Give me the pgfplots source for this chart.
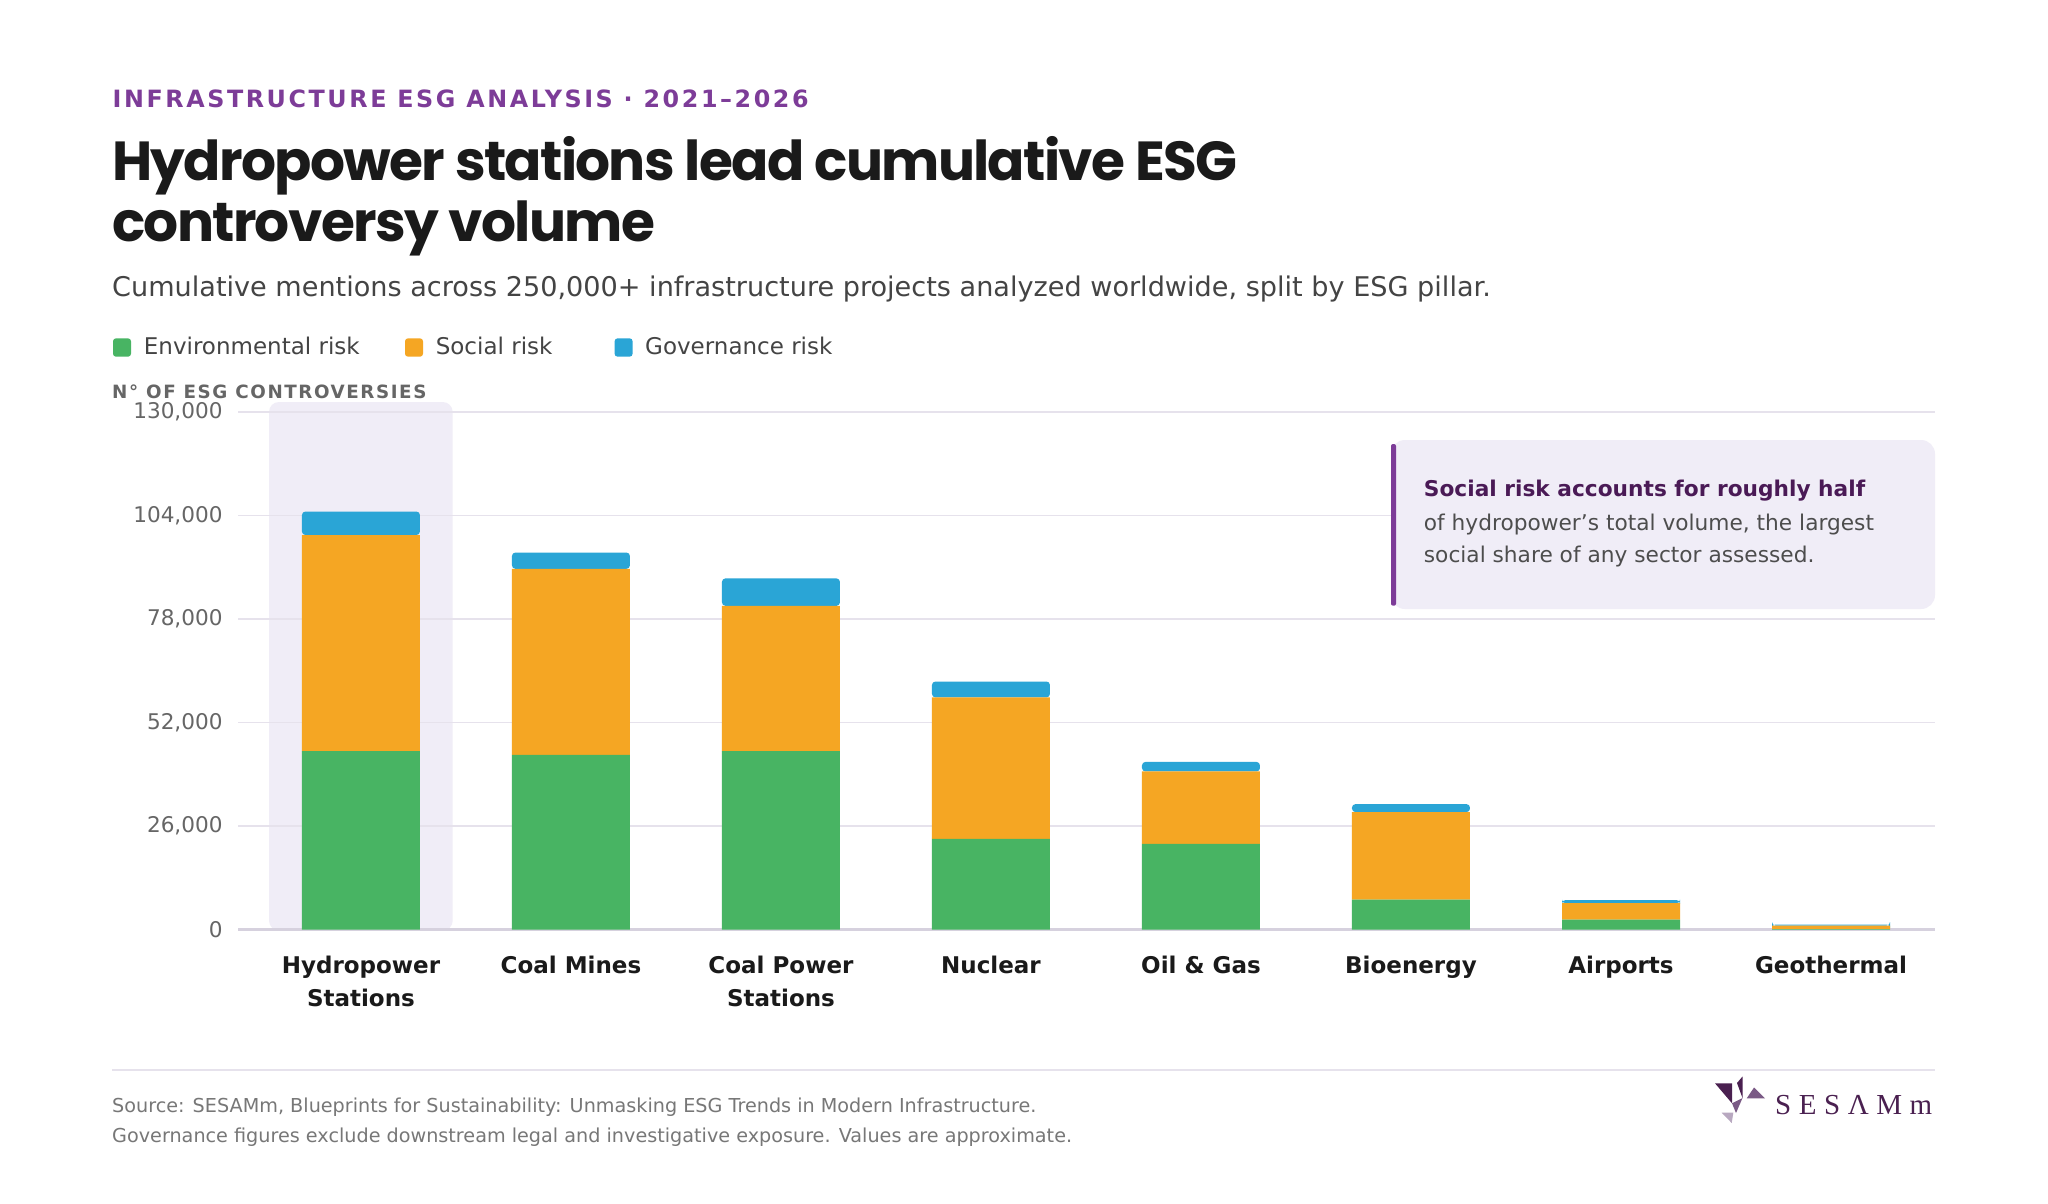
\documentclass[border=0pt]{standalone}
\usepackage{pgfplots}
\pgfplotsset{compat=1.18}
\usepackage{fontspec}
\setmainfont{DejaVu Sans}
\newfontfamily\poppins{Poppins}[LetterSpace=-3.1]
\newfontfamily\overfont{DejaVu Sans}[LetterSpace=10.8]
\newfontfamily\ylabfont{DejaVu Sans}[LetterSpace=8.5]
\newfontfamily\logofont{Liberation Serif}[LetterSpace=26]
\definecolor{greenc}{HTML}{48B463}
\definecolor{orangec}{HTML}{F5A623}
\definecolor{bluec}{HTML}{2AA5D6}
\definecolor{hlc}{HTML}{F0EDF7}
\definecolor{gridc}{HTML}{E6E2EC}
\definecolor{axisc}{HTML}{D6D1DE}
\definecolor{overc}{HTML}{7D3C98}
\definecolor{titlec}{HTML}{1A1A1A}
\definecolor{subc}{HTML}{444444}
\definecolor{grayc}{HTML}{666666}
\definecolor{annoc}{HTML}{4A1A56}
\definecolor{annotext}{HTML}{4D4D4D}
\definecolor{footc}{HTML}{777777}
\definecolor{logoc}{HTML}{4A2050}
\definecolor{logom}{HTML}{7A5A85}
\definecolor{logol}{HTML}{B8A8C0}
\definecolor{barc}{HTML}{7D3C98}
\begin{document}
\begin{tikzpicture}
\useasboundingbox (0pt,0pt) rectangle (2048pt,-1203pt);
\fill[white] (0pt,0pt) rectangle (2048pt,-1203pt);
% header
\node[anchor=base west, inner sep=0, text=overc, font=\overfont\bfseries\fontsize{23.8}{28}\selectfont] at (112.5pt,-107.3pt) {INFRASTRUCTURE ESG ANALYSIS · 2021–2026};
\node[anchor=base west, inner sep=0, text=titlec, font=\poppins\bfseries\fontsize{55}{62}\selectfont] at (112pt,-180pt) {Hydropower stations lead cumulative ESG};
\node[anchor=base west, inner sep=0, text=titlec, font=\poppins\bfseries\fontsize{55}{62}\selectfont] at (112pt,-241.7pt) {controversy volume};
\node[anchor=base west, inner sep=0, text=subc, font=\fontsize{27.1}{32}\selectfont] at (112pt,-296.7pt) {Cumulative mentions across 250,000+ infrastructure projects analyzed worldwide, split by ESG pillar.};
% legend
\fill[greenc, rounded corners=3pt] (113pt,-338.3pt) rectangle (131pt,-356.7pt);
\node[anchor=base west, inner sep=0, text=subc, font=\fontsize{23}{27}\selectfont] at (143.7pt,-354pt) {Environmental risk};
\fill[orangec, rounded corners=3pt] (405pt,-338.3pt) rectangle (423pt,-356.7pt);
\node[anchor=base west, inner sep=0, text=subc, font=\fontsize{23}{27}\selectfont] at (435.6pt,-354pt) {Social risk};
\fill[bluec, rounded corners=3pt] (614.6pt,-338.3pt) rectangle (632.6pt,-356.7pt);
\node[anchor=base west, inner sep=0, text=subc, font=\fontsize{23}{27}\selectfont] at (645pt,-354pt) {Governance risk};
\node[anchor=base west, inner sep=0, text=grayc, font=\ylabfont\bfseries\fontsize{18.3}{22}\selectfont] at (112pt,-398.3pt) {N° OF ESG CONTROVERSIES};
% highlight behind first category
\fill[hlc, rounded corners=10pt] (269pt,-402pt) rectangle (452.7pt,-930.5pt);
% chart
\begin{axis}[
  at={(238.3pt,-929.5pt)}, anchor=south west, scale only axis,
  width=1696.7pt, height=517.5pt,
  xmin=-0.584, xmax=7.495, ymin=0, ymax=130000,
  ybar stacked, bar width=118pt,
  axis x line*=bottom, axis y line*=left,
  x axis line style={draw=axisc, line width=2.5pt, -},
  y axis line style={draw=none},
  xtick={0,...,7},
  xticklabels={{Hydropower\\Stations},{Coal Mines},{Coal Power\\Stations},{Nuclear},{Oil \& Gas},{Bioenergy},{Airports},{Geothermal}},
  ytick={0,26000,52000,78000,104000,130000},
  scaled y ticks=false,
  tick style={draw=none},
  ymajorgrids, grid style={draw=gridc, line width=1.5pt},
  yticklabel style={/pgf/number format/fixed, /pgf/number format/1000 sep={,}, /pgf/number format/assume math mode=true},
  y tick label style={font=\fontsize{21.6}{24}\selectfont, text=grayc, anchor=east, inner sep=0pt, xshift=-15.5pt},
  x tick label style={font=\bfseries\fontsize{23}{32.7}\selectfont, text=titlec, align=center, anchor=north, inner sep=0pt, yshift=-26.5pt},
  clip=false,
]
\addplot[fill=greenc, draw=none] coordinates {(0,44800) (1,43900) (2,44800) (3,22800) (4,21500) (5,7500) (6,2500) (7,100)};
\addplot[fill=orangec, draw=none] coordinates {(0,54300) (1,46700) (2,36500) (3,35500) (4,18200) (5,22000) (6,4100) (7,900)};
\addplot[fill=bluec, draw=none, rounded corners=3.5pt] coordinates {(0,5900) (1,4100) (2,6900) (3,4000) (4,2400) (5,2000) (6,800) (7,250)};
\end{axis}
% annotation
\fill[hlc, rounded corners=14pt] (1391pt,-440pt) rectangle (1935pt,-609pt);
\fill[barc, rounded corners=2pt] (1391pt,-444pt) rectangle (1396pt,-605.7pt);
\node[anchor=base west, inner sep=0, text=annoc, font=\bfseries\fontsize{21.7}{26}\selectfont] at (1423.7pt,-496.7pt) {Social risk accounts for roughly half};
\node[anchor=base west, inner sep=0, text=annotext, font=\fontsize{21.7}{26}\selectfont] at (1423.7pt,-530pt) {of hydropower’s total volume, the largest};
\node[anchor=base west, inner sep=0, text=annotext, font=\fontsize{21.7}{26}\selectfont] at (1423.7pt,-562.7pt) {social share of any sector assessed.};
% footer
\draw[gridc, line width=1.5pt] (112pt,-1069.8pt) -- (1935pt,-1069.8pt);
\node[anchor=base west, inner sep=0, text=footc, font=\fontsize{19.2}{22}\selectfont] at (112pt,-1112pt) {Source: SESAMm, Blueprints for Sustainability: Unmasking ESG Trends in Modern Infrastructure.};
\node[anchor=base west, inner sep=0, text=footc, font=\fontsize{19.2}{22}\selectfont] at (112pt,-1142.5pt) {Governance figures exclude downstream legal and investigative exposure. Values are approximate.};
% logo
\fill[logoc] (1715pt,-1083.3pt) -- (1732pt,-1083.3pt) -- (1732pt,-1103.3pt) -- cycle;
\fill[logoc] (1737pt,-1083pt) -- (1742.5pt,-1076.5pt) -- (1742.5pt,-1098pt) -- cycle;
\fill[logom] (1732pt,-1103.3pt) -- (1742.5pt,-1098pt) -- (1736pt,-1113pt) -- cycle;
\fill[logom] (1746.7pt,-1098.3pt) -- (1754pt,-1087.5pt) -- (1765pt,-1098.3pt) -- cycle;
\fill[logol] (1721.7pt,-1112.7pt) -- (1733.3pt,-1112.7pt) -- (1731.7pt,-1123pt) -- cycle;
\node[anchor=base west, inner sep=0, text=logoc, font=\logofont\fontsize{29}{32}\selectfont] at (1775pt,-1114.3pt) {SESΛMm};
\end{tikzpicture}
\end{document}
